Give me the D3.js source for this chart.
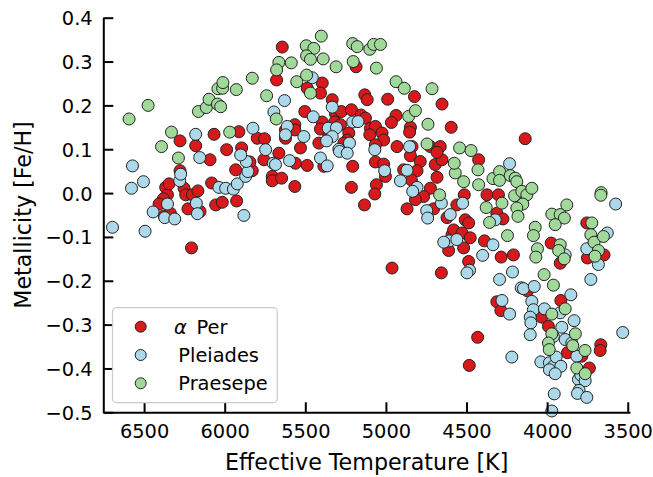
<!DOCTYPE html>
<html>
<head>
<meta charset="utf-8">
<script src="https://cdn.jsdelivr.net/npm/d3@7"></script>
<style>
  html, body { margin: 0; padding: 0; background: #fff; }
  svg { display: block; font-family: "DejaVu Sans", sans-serif; }
</style>
</head>
<body>
<svg id="chart" width="653" height="477"></svg>
<script>
// Stellar metallicity vs effective temperature for three open clusters.
// Each entry: [Teff (K), [Fe/H]]

const alphaPer = [
  [6277,0.119],[6180,0.108],[6066,0.134],[5912,0.140],[5798,0.125],[5753,0.124],[5988,0.099],[5895,0.103],
  [5643,0.333],[5678,0.258],
  [5185,0.288],[5395,0.251],[5488,0.239],[5406,0.228],[5131,0.224],[5116,0.213],[4989,0.214],[4823,0.220],
  [4652,0.203],[5333,0.213],[5503,0.186],[5313,0.181],[5276,0.186],[5214,0.190],[5154,0.178],[5127,0.171],
  [5317,0.162],[4937,0.177],[4966,0.161],[4848,0.150],[4853,0.139],[4595,0.150],[5565,0.156],[5565,0.144],
  [5623,0.144],[5623,0.125],[5395,0.162],[5406,0.146],[5354,0.133],[5282,0.156],[5230,0.137],[5240,0.121],
  [5096,0.148],[5065,0.152],[5024,0.137],[5100,0.133],[5014,0.121],[5065,0.110],[4931,0.106],[5530,0.103],
  [4838,0.106],[4724,0.106],[4663,0.106],[5261,0.114],[5416,0.114],
  [4136,0.124],
  [6366,0.013],[6355,-0.004],[6380,-0.013],[6407,-0.025],[6376,-0.052],[6337,-0.046],[6345,0.021],[6277,0.051],
  [6252,0.011],[6242,-0.004],[6200,-0.004],[6166,0.005],[6228,-0.036],[6153,-0.042],[6206,-0.125],[6091,0.076],
  [6081,0.023],[6056,-0.027],[6015,-0.021],[5932,0.053],[5926,-0.018],[5829,0.051],[5757,0.076],[5705,0.038],
  [5705,0.028],[5664,0.091],[5844,0.071],
  [5561,0.068],[5488,0.063],[5385,0.061],[5565,0.015],[5214,0.013],[5206,0.061],[5065,0.071],[5014,0.066],
  [5003,0.038],[5059,0.019],[5069,-0.002],[5133,-0.027],[4848,0.085],[4787,0.072],[4890,0.053],[4807,0.051],
  [4694,0.065],[4652,0.076],[4683,0.036],[4842,0.030],[4724,0.011],[4766,-0.008],[4817,-0.015],[4869,-0.036],
  [4704,-0.036],[4621,-0.056],[4611,-0.131],[4590,-0.095],[4962,-0.171],[4656,-0.182],[4683,0.093],[5647,0.034],
  [4425,0.076],[4373,-0.004],[4302,-0.004],[4312,-0.046],[4274,-0.059],[4560,-0.027],[4514,-0.004],[4508,-0.061],
  [4487,-0.068],[4580,-0.084],[4528,-0.091],[4477,-0.102],[4518,-0.125],[4389,-0.109],[4285,-0.146],[4209,-0.141],
  [4487,-0.156],[3975,-0.114],[3919,-0.160],[3754,-0.068],[3647,-0.141],[3750,-0.148],
  [4312,-0.248],[4287,-0.268],[4431,-0.329],[4483,-0.393],[4122,-0.223],[3915,-0.245],[4033,-0.283],[3992,-0.304],
  [3874,-0.364],[3785,-0.372],[3738,-0.399],[3667,-0.346],[3671,-0.359]
];

const pleiades = [
  [6180,0.134],[5825,0.148],[5695,0.185],[5746,0.099],
  [5629,0.211],[5457,0.263],[5333,0.196],[5451,0.174],[5206,0.162],[5173,0.163],[5612,0.152],[5623,0.133],
  [5509,0.129],[5358,0.148],[5307,0.149],[5333,0.129],[5368,0.119],[5226,0.114],[4853,0.106],[5292,0.100],
  [6572,0.062],[6504,0.026],[6578,0.011],[6696,-0.078],[6494,-0.087],[6444,-0.043],[6372,-0.056],[6310,-0.059],
  [6355,-0.025],[6279,0.028],[6273,0.043],[6155,0.081],[6176,-0.023],[6169,-0.047],[6036,0.013],[5994,0.011],
  [5946,0.009],[5922,0.021],[5870,0.038],[5856,0.049],[5866,0.072],[5901,0.087],[5881,-0.051],[5699,0.068],
  [5685,0.065],
  [5598,0.074],[5406,0.080],[5364,0.062],[5288,0.095],[5240,0.091],[5069,0.099],[5008,0.051],[4869,0.052],
  [4910,0.028],[4807,0.013],[4834,0.004],[4656,-0.023],[4747,-0.040],[4741,-0.057],[4601,-0.049],[4607,-0.109],
  [4641,-0.112],
  [4233,0.067],[4524,-0.023],[4560,-0.106],[4322,-0.061],[4336,-0.118],[4400,-0.142],[4481,-0.176],[4497,-0.182],
  [4215,-0.180],[4295,-0.197],[3575,-0.025],[3754,-0.127],[3627,-0.091],[3682,-0.163],[3888,-0.141],[3729,-0.197],
  [4161,-0.216],[4147,-0.218],[4080,-0.213],[4280,-0.245],[4233,-0.276],[4095,-0.247],[4085,-0.266],[4017,-0.264],
  [4105,-0.283],[4101,-0.296],[4105,-0.323],[3919,-0.273],[3853,-0.232],[3833,-0.291],[3909,-0.306],[3961,-0.327],
  [3888,-0.334],[3531,-0.318],[4219,-0.374],[4039,-0.385],[3986,-0.387],[3961,-0.395],[3944,-0.374],[3915,-0.395],
  [3986,-0.403],[3950,-0.412],[3816,-0.372],[3806,-0.425],[3791,-0.415],[3764,-0.428],[3802,-0.450],[3812,-0.457],
  [3754,-0.466],[3956,-0.458],[3971,-0.497],[3847,-0.342]
];

const praesepe = [
  [6593,0.169],[6475,0.200],[6163,0.186],[6114,0.195],[6097,0.214],[6045,0.203],[6025,0.197],[6042,0.238],
  [6013,0.239],[6011,0.252],[5928,0.236],[5829,0.262],[5740,0.222],[5680,0.169],[5664,0.298],[5678,0.281],
  [6330,0.139],[5969,0.139],[6392,0.106],
  [5401,0.358],[5494,0.336],[5447,0.330],[5492,0.313],[5468,0.305],[5389,0.306],[5587,0.297],[5206,0.341],
  [5178,0.334],[5100,0.328],[5076,0.339],[5034,0.339],[5203,0.300],[5309,0.288],[5059,0.285],[5553,0.254],
  [5492,0.269],[5468,0.228],[4937,0.254],[4886,0.239],[4714,0.238],[4859,0.175],[4817,0.188],[4739,0.157],
  [4745,0.112],
  [4543,0.103],[4472,0.097],[6287,0.080],[4667,-0.004],[4570,0.046],
  [4576,0.068],[4518,0.026],[4429,0.053],[4425,0.019],[4378,-0.033],[4357,-0.067],[4336,0.033],[4295,0.049],
  [4295,0.029],[4280,-0.023],[4229,0.040],[4198,0.034],[4188,0.026],[4202,-0.006],[4157,0.004],[4126,-0.004],
  [4095,0.011],[4151,-0.025],[4188,-0.034],[4181,-0.053],[4246,-0.097],[4074,-0.078],[4085,-0.097],[4060,-0.127],
  [4070,-0.146],[3971,-0.048],[3919,-0.049],[3893,-0.057],[3950,-0.072],[3878,-0.027],[3919,-0.118],[3929,-0.131],
  [3894,-0.150],[3665,0.001],[3667,-0.005],[3723,-0.068],[3729,-0.095],[3709,-0.112],[3651,-0.099],[3682,-0.131],
  [3703,-0.144],[4019,-0.186],
  [3961,-0.210],[3888,-0.264],[3971,-0.276],[3971,-0.321],[3992,-0.342],[3987,-0.357],[3825,-0.321],[3841,-0.348],
  [3765,-0.359],[3816,-0.399],[3764,-0.412]
];

const clusters = [
  { name: "Per", italicPrefix: "α", points: alphaPer, color: "#d7191c" },
  { name: "Pleiades", italicPrefix: null, points: pleiades, color: "#abd9e9" },
  { name: "Praesepe", italicPrefix: null, points: praesepe, color: "#a1d99b" }
];

const xTicks = [6500, 6000, 5500, 5000, 4500, 4000, 3500];
const yTicks = [-0.5, -0.4, -0.3, -0.2, -0.1, 0.0, 0.1, 0.2, 0.3, 0.4];

const plot = { left: 103.3, right: 630, top: 17.7, bottom: 412.3 };
const tickFont = 19.4, labelFont = 22.2;

const svg = d3.select("#chart");

// Temperature axis runs hot to cool, left to right
const x = d3.scaleLinear().domain([6753, 3486]).range([plot.left, plot.right]);
const y = d3.scaleLinear().domain([-0.5, 0.4]).range([plot.bottom, plot.top]);

const fmtY = v => d3.format(".1f")(v).replace("-", "\u2212");

// Scatter points: clusters drawn in order so later ones sit on top
clusters.forEach(c => {
  svg.append("g")
    .selectAll("circle")
    .data(c.points)
    .join("circle")
      .attr("cx", d => x(d[0]))
      .attr("cy", d => y(d[1]))
      .attr("r", 6)
      .attr("fill", c.color)
      .attr("stroke", "#222")
      .attr("stroke-width", 1);
});

// Bottom axis: inward ticks, only the bottom and left spines
const xAxis = d3.axisBottom(x).tickValues(xTicks).tickFormat(d3.format("d"))
  .tickSizeInner(-10).tickSizeOuter(0).tickPadding(0);
const gx = svg.append("g").attr("transform", `translate(0,${plot.bottom})`).call(xAxis);
gx.select(".domain").attr("stroke", "#000").attr("stroke-width", 2);
gx.selectAll(".tick line").attr("stroke", "#000").attr("stroke-width", 2);
gx.selectAll(".tick text")
  .attr("y", 26).attr("dy", null)
  .attr("font-size", tickFont).attr("fill", "#000")
  .attr("font-family", "DejaVu Sans");

const yAxis = d3.axisLeft(y).tickValues(yTicks).tickFormat(fmtY)
  .tickSizeInner(-10).tickSizeOuter(0).tickPadding(0);
const gy = svg.append("g").attr("transform", `translate(${plot.left},0)`).call(yAxis);
gy.select(".domain").attr("stroke", "#000").attr("stroke-width", 2);
gy.selectAll(".tick line").attr("stroke", "#000").attr("stroke-width", 2);
gy.selectAll(".tick text")
  .attr("x", -10.6).attr("dy", "0.36em")
  .attr("font-size", tickFont).attr("fill", "#000")
  .attr("font-family", "DejaVu Sans");

// Axis titles
svg.append("text")
  .attr("x", (plot.left + plot.right) / 2).attr("y", 470)
  .attr("text-anchor", "middle").attr("font-size", labelFont).attr("fill", "#000")
  .text("Effective Temperature [K]");

svg.append("text")
  .attr("transform", `translate(30.5,${(plot.top + plot.bottom) / 2}) rotate(-90)`)
  .attr("text-anchor", "middle").attr("font-size", labelFont).attr("fill", "#000")
  .text("Metallicity [Fe/H]");

// Legend
const legend = svg.append("g");
legend.append("rect")
  .attr("x", 112.5).attr("y", 307.7).attr("width", 164.8).attr("height", 95)
  .attr("rx", 4).attr("ry", 4)
  .attr("fill", "#fff").attr("fill-opacity", 0.8)
  .attr("stroke", "#cccccc").attr("stroke-width", 1.3);

const rowY = [326.7, 355, 383.3];
clusters.forEach((c, i) => {
  legend.append("circle")
    .attr("cx", 140.7).attr("cy", rowY[i]).attr("r", 5.5)
    .attr("fill", c.color).attr("stroke", "#222").attr("stroke-width", 1);
  const t = legend.append("text")
    .attr("y", rowY[i]).attr("dy", "0.36em")
    .attr("font-size", tickFont).attr("fill", "#000");
  if (c.italicPrefix) {
    t.attr("x", 174);
    t.append("tspan").attr("font-style", "italic").text(c.italicPrefix);
    t.append("tspan").attr("x", 196.5).text(c.name);
  } else {
    t.attr("x", 178.3).text(c.name);
  }
});
</script>
</body>
</html>
